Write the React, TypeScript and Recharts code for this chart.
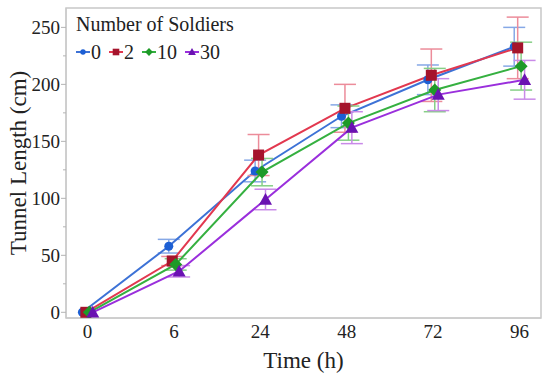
import { LineChart, Line, XAxis, YAxis, ErrorBar, ReferenceArea, Label } from 'recharts';

// time points (categories) and tunnel length per group
const timeLabels = ['0', '6', '24', '48', '72', '96'];
const len0 = [0, 58, 124, 172, 204, 233];
const err0 = [0, 6, 9.5, 10, 13, 17];
const len2 = [0, 45, 138, 179, 208, 232];
const err2 = [0, 4, 18, 21, 23, 27];
const len10 = [0, 42, 123, 166, 195, 216];
const err10 = [0, 5, 12, 15, 19, 21];
const len30 = [0, 36, 99, 162, 191, 204];
const err30 = [0, 5, 9, 14, 14, 17];
const yTicks = [0, 25, 50, 75, 100, 125, 150, 175, 200, 225, 250];

const FONT = '"Liberation Serif", serif';

const build = (vals: number[], errs: number[], dodge: number) =>
  vals.map((y, i) => ({ x: i + dodge, y, err: errs[i] }));

const series = [
  { name: '0', data: build(len0, err0, -0.06), line: '#3d72d6', mark: '#1c5fd4', bar: '#86a8e6', shape: 'circle' },
  { name: '2', data: build(len2, err2, -0.02), line: '#e2384f', mark: '#a5142c', bar: '#ec8c9a', shape: 'square' },
  { name: '10', data: build(len10, err10, 0.02), line: '#35b040', mark: '#1e9a28', bar: '#86cf86', shape: 'diamond' },
  { name: '30', data: build(len30, err30, 0.06), line: '#9a2fdc', mark: '#6a12b2', bar: '#c98ae8', shape: 'triangle' },
];

function Marker({ cx, cy, shape, color, s = 1 }: any) {
  if (cx == null || cy == null) return null;
  if (shape === 'circle') return <circle cx={cx} cy={cy} r={4.5 * s} fill={color} />;
  if (shape === 'square') {
    const h = 5.5 * s;
    return <rect x={cx - h} y={cy - h} width={2 * h} height={2 * h} fill={color} />;
  }
  if (shape === 'diamond') {
    const h = 6.5 * s;
    return <polygon points={`${cx},${cy - h} ${cx + h},${cy} ${cx},${cy + h} ${cx - h},${cy}`} fill={color} />;
  }
  const h = 6.5 * s;
  return <polygon points={`${cx},${cy - h} ${cx + h},${cy + h * 0.8} ${cx - h},${cy + h * 0.8}`} fill={color} />;
}

function YTick({ x, y, payload }: any) {
  const axisX = x + 6;
  const major = payload.value % 50 === 0;
  return (
    <g>
      <line x1={axisX - (major ? 5 : 3)} x2={axisX} y1={y} y2={y} stroke="#b4b4b4" />
      {major && (
        <text x={x} y={y} dy={6.5} textAnchor="end" fontSize={19} fontFamily={FONT} fill="#222">
          {payload.value}
        </text>
      )}
    </g>
  );
}

function XTick({ x, y, payload }: any) {
  return (
    <text x={x} y={y} dy={12} textAnchor="middle" fontSize={19} fontFamily={FONT} fill="#222">
      {timeLabels[payload.value]}
    </text>
  );
}

function LegendIcon({ shape, line, mark }: any) {
  return (
    <svg width={14} height={14} style={{ verticalAlign: 'middle', marginRight: 1 }}>
      <line x1={0} x2={14} y1={7} y2={7} stroke={line} strokeWidth={2} />
      <Marker cx={7} cy={7} shape={shape} color={mark} s={0.6} />
    </svg>
  );
}

export default function App() {
  return (
    <div style={{ position: 'absolute', left: 0, top: 0, width: 550, height: 376, background: '#fff' }}>
      <LineChart width={550} height={376} margin={{ top: 8, right: 9, bottom: 0, left: 0 }}>
        <XAxis
          type="number"
          dataKey="x"
          domain={[-0.25, 5.25]}
          ticks={[0, 1, 2, 3, 4, 5]}
          allowDataOverflow
          height={58}
          axisLine={{ stroke: '#c8c8c8' }}
          tickLine={false}
          tick={<XTick />}
        >
          <Label value="Time (h)" position="insideBottom" offset={8} fontSize={23} fontFamily={FONT} fill="#222" />
        </XAxis>
        <YAxis
          type="number"
          dataKey="y"
          domain={[-5, 267]}
          ticks={yTicks}
          allowDataOverflow
          width={66}
          axisLine={{ stroke: '#c8c8c8' }}
          tickLine={false}
          tickSize={5}
          tickMargin={1}
          tick={<YTick />}
        >
          <Label
            value="Tunnel Length (cm)"
            angle={-90}
            position="center"
            dx={-15}
            fontSize={23}
            fontFamily={FONT}
            fill="#222"
          />
        </YAxis>
        <ReferenceArea x1={-0.25} x2={5.25} y1={-5} y2={267} stroke="#c8c8c8" strokeWidth={1.5} fill="none" ifOverflow="visible" />
        {series.map((s) => (
          <Line
            key={s.name}
            data={s.data}
            dataKey="y"
            name={s.name}
            stroke={s.line}
            strokeWidth={2}
            isAnimationActive={false}
            dot={(p: any) => <Marker key={`${s.name}-${p.index}`} cx={p.cx} cy={p.cy} shape={s.shape} color={s.mark} />}
            activeDot={false}
          >
            <ErrorBar dataKey="err" width={11} stroke={s.bar} strokeWidth={1.5} direction="y" />
          </Line>
        ))}
      </LineChart>
      <div
        style={{
          position: 'absolute',
          left: 76,
          top: 11,
          fontFamily: FONT,
          fontSize: 20,
          color: '#222',
          lineHeight: '26px',
        }}
      >
        <div>Number of Soldiers</div>
        <div style={{ display: 'flex', alignItems: 'center', marginTop: 2 }}>
          {series.map((s) => (
            <span key={s.name} style={{ display: 'inline-flex', alignItems: 'center', marginRight: 8 }}>
              <LegendIcon shape={s.shape} line={s.line} mark={s.mark} />
              <span>{s.name}</span>
            </span>
          ))}
        </div>
      </div>
    </div>
  );
}
